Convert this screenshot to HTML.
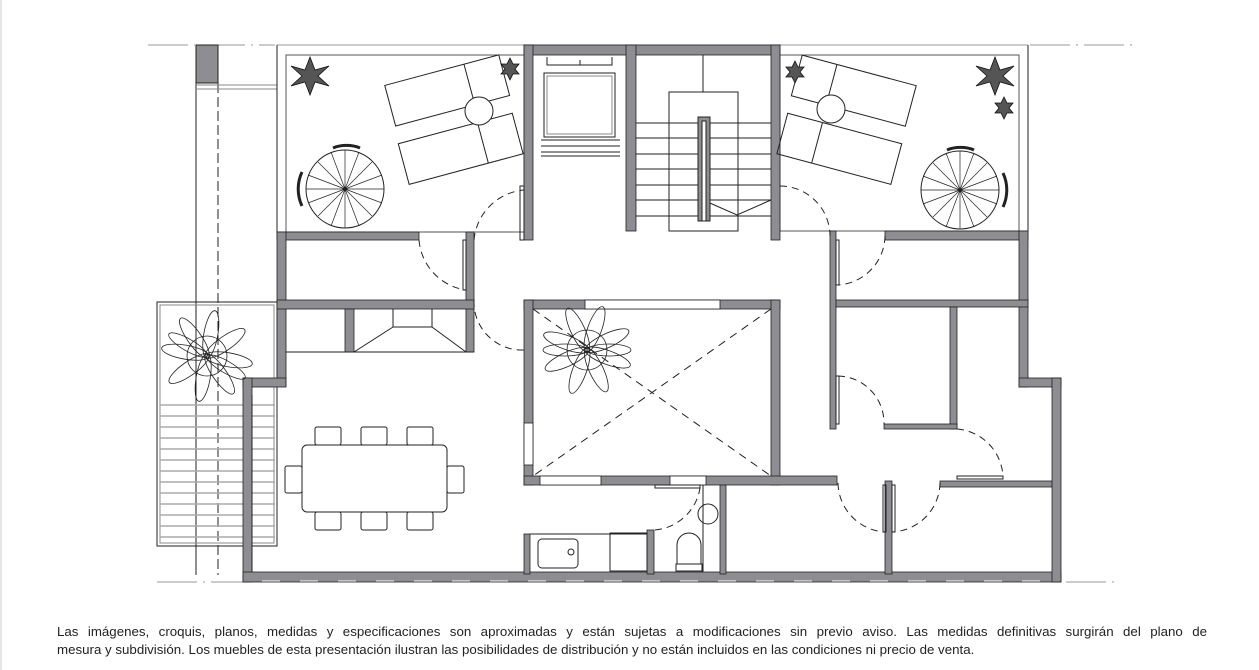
<!DOCTYPE html>
<html><head><meta charset="utf-8"><style>
body{margin:0;background:#fff;width:1259px;height:670px;overflow:hidden;position:relative}
svg{position:absolute;left:0;top:0}
.t{position:absolute;left:57px;top:623px;font-family:"Liberation Sans",sans-serif;font-size:13.3px;line-height:18px;color:#222;width:1150px}
.l1{text-align:justify;text-align-last:justify;white-space:nowrap}
</style></head><body>
<svg width="1259" height="670" viewBox="0 0 1259 670">
<line x1="1" y1="0" x2="1" y2="670" stroke="#ccc"/>
<g fill="none" stroke="#999" stroke-width="1">
<path d="M148 45H195M205 45H275" stroke-dasharray="40 6 2 6"/>
<path d="M1030 45H1138" stroke-dasharray="40 6 2 6"/>
<path d="M157 582H243M1066 582H1118" stroke-dasharray="40 6 2 6"/>
<line x1="277" y1="45" x2="1028" y2="45"/>
</g>
<g fill="none" stroke="#222" stroke-width="1">
<line x1="196" y1="83" x2="196" y2="575"/>
<line x1="218" y1="83" x2="218" y2="575" stroke-dasharray="10 4"/>
<line x1="196" y1="85" x2="277" y2="85" stroke="#888"/>
<line x1="196" y1="89" x2="277" y2="89" stroke="#888"/>
<line x1="277" y1="45" x2="277" y2="232"/>
<rect x="286" y="55" width="238" height="177" stroke="#555"/>
<rect x="780" y="55" width="239" height="176" stroke="#555"/>
<line x1="1028" y1="45" x2="1028" y2="231"/>
<rect x="157" y="302" width="120" height="244"/>
<rect x="160" y="305" width="114" height="238" stroke="#888"/>
</g>
<g stroke="#aaa" stroke-width="1.5">
<path d="M160 405H275M160 416H275M160 427H275M160 438H275M160 449H275M160 460H275M160 471H275M160 482H275M160 493H275M160 504H275M160 515H275M160 526H275M160 537H275"/>
</g>
<rect x="196" y="45" width="22" height="38" fill="#8e8e92" stroke="#222"/>
<g fill="#8e8e92" stroke="#222" stroke-width="0.8">
<rect x="524" y="45" width="256" height="10"/>
<rect x="524" y="45" width="9" height="195"/>
<rect x="626" y="45" width="10" height="186"/>
<rect x="771" y="45" width="9" height="195"/>
<rect x="277" y="232" width="142" height="8"/>
<rect x="277" y="232" width="9" height="154"/>
<rect x="466" y="232" width="8" height="120"/>
<rect x="277" y="300" width="197" height="9"/>
<rect x="345" y="309" width="9" height="43"/>
<rect x="243" y="378" width="43" height="9"/>
<rect x="243" y="378" width="9" height="204"/>
<rect x="243" y="572" width="818" height="10"/>
<rect x="524" y="300" width="256" height="9"/>
<rect x="524" y="300" width="9" height="185"/>
<rect x="771" y="300" width="9" height="185"/>
<rect x="524" y="476" width="313" height="9"/>
<rect x="524" y="534" width="6" height="40"/>
<rect x="647" y="530" width="7" height="44"/>
<rect x="720" y="485" width="6" height="89"/>
<rect x="885" y="481" width="7" height="93"/>
<rect x="940" y="481" width="112" height="6"/>
<rect x="885" y="231" width="143" height="9"/>
<rect x="1019" y="231" width="9" height="156"/>
<rect x="1019" y="378" width="42" height="9"/>
<rect x="1052" y="378" width="9" height="204"/>
<rect x="830" y="231" width="6" height="198"/>
<rect x="836" y="300" width="192" height="7"/>
<rect x="950" y="307" width="7" height="122"/>
<rect x="884" y="424" width="73" height="5"/>
</g>
<g fill="#fff" stroke="#222" stroke-width="0.8">
<rect x="585" y="300" width="135" height="9"/>
<rect x="524" y="423" width="9" height="42"/>
<rect x="540" y="476" width="61" height="9"/>
<rect x="670" y="476" width="36" height="9"/>
</g>
<g stroke="#fff" stroke-width="1" stroke-dasharray="18 20" fill="none">
<path d="M262 581H1050"/></g>
<g fill="none" stroke="#222" stroke-width="1">
<rect x="544" y="73" width="71" height="64"/>
<rect x="547" y="76" width="65" height="58" stroke="#888"/>
<path d="M547 57V65H612V57M580 60V65"/>
<path d="M541 140H620M541 146H620M541 152H620M541 156H620"/>
<path d="M636 123H771M636 138H771M636 154H771M636 169H771M636 185H771M636 200H771M636 216H771"/>
<rect x="669" y="92" width="69" height="139"/>
<line x1="703" y1="55" x2="703" y2="92"/>
<path d="M703 200L737 215L771 200"/>
<rect x="698" y="117" width="12" height="104" fill="#8e8e92"/>
<rect x="702" y="121" width="4" height="100" fill="#fff"/>
<path d="M533 309L771 476M771 309L533 476" stroke-dasharray="8 6"/>
<path d="M286 352H474M393 309V327H432V309M393 327L354 352M432 327L466 352"/>
<path d="M419 240A55 55 0 0 0 466 290" stroke-dasharray="7 5"/>
<path d="M474 240A55 55 0 0 1 524 190" stroke-dasharray="7 5"/>
<path d="M474 300A48 48 0 0 0 524 350" stroke-dasharray="7 5"/>
<path d="M780 186A50 50 0 0 1 830 236" stroke-dasharray="7 5"/>
<path d="M885 236A50 50 0 0 1 838 285" stroke-dasharray="7 5"/>
<path d="M838 376A47 47 0 0 1 884 424" stroke-dasharray="7 5"/>
<path d="M957 429A50 50 0 0 1 1003 477" stroke-dasharray="7 5"/>
<path d="M838 483A50 50 0 0 0 885 532" stroke-dasharray="7 5"/>
<path d="M940 483A50 50 0 0 1 892 532" stroke-dasharray="7 5"/>
<path d="M655 530A50 50 0 0 0 700 488" stroke-dasharray="7 5"/>
<rect x="520" y="186" width="4" height="54"/>
<rect x="463" y="240" width="3" height="50"/>
<rect x="836" y="240" width="3" height="45"/>
<rect x="836" y="376" width="3" height="48"/>
<rect x="883" y="485" width="3" height="47"/>
<rect x="892" y="485" width="3" height="47"/>
<rect x="957" y="476" width="46" height="3"/>
<rect x="655" y="485" width="45" height="3"/>
<path d="M530 534H647"/>
<rect x="538" y="539" width="40" height="29" rx="4"/>
<circle cx="571" cy="552" r="3"/>
<rect x="610" y="533" width="37" height="38"/>
<path d="M703 485V572"/>
<circle cx="708" cy="514" r="10"/>
<path d="M677 564V545A12 12 0 0 1 701 545V564Z"/>
<rect x="676" y="564" width="26" height="7"/>
<rect x="302" y="445" width="145" height="67" rx="5"/>
<rect x="315" y="427" width="26" height="18" rx="2"/><rect x="361" y="427" width="26" height="18" rx="2"/><rect x="407" y="427" width="26" height="18" rx="2"/>
<rect x="315" y="512" width="26" height="18" rx="2"/><rect x="361" y="512" width="26" height="18" rx="2"/><rect x="407" y="512" width="26" height="18" rx="2"/>
<rect x="285" y="466" width="17" height="27" rx="2"/><rect x="447" y="466" width="17" height="27" rx="2"/>
<line x1="252" y1="395" x2="252" y2="572"/>
<g transform="rotate(-15 445 90)"><rect x="388" y="70" width="118" height="42"/><line x1="470" y1="70" x2="470" y2="112"/></g>
<g transform="rotate(-15 460 150)"><rect x="402" y="128" width="118" height="42"/><line x1="484" y1="128" x2="484" y2="170"/></g>
<circle cx="479" cy="111" r="14" fill="#fff"/>
<g transform="rotate(15 855 90)"><rect x="795" y="70" width="118" height="42"/><line x1="831" y1="70" x2="831" y2="112"/></g>
<g transform="rotate(15 840 150)"><rect x="780" y="128" width="118" height="42"/><line x1="816" y1="128" x2="816" y2="170"/></g>
<circle cx="831" cy="109" r="14" fill="#fff"/>
<circle cx="345" cy="189" r="39"/><path d="M302 172A40 40 0 0 0 302 206" stroke-width="3"/>
<path d="M333 148A20 10 0 0 1 360 148" stroke-width="3"/>
<circle cx="960" cy="190" r="39"/><path d="M1003 173A40 40 0 0 1 1003 207" stroke-width="3"/>
<path d="M947 150A20 10 0 0 1 974 150" stroke-width="3"/>
<g stroke-width="0.7">
<path d="M345 150V228M306 189H384M318 162L372 216M372 162L318 216M331 152L359 226M359 152L331 226M308 175L382 203M382 175L308 203"/>
<path d="M960 151V229M921 190H999M933 163L987 217M987 163L933 217M946 153L974 227M974 153L946 227M923 176L997 204M997 176L923 204"/>
</g>
<g stroke-width="0.8">
<g transform="translate(207,356)">
<ellipse rx="24" ry="7" transform="rotate(10) translate(22,0)"/><ellipse rx="24" ry="7" transform="rotate(55) translate(22,0)"/><ellipse rx="24" ry="7" transform="rotate(100) translate(22,0)"/><ellipse rx="24" ry="7" transform="rotate(145) translate(22,0)"/><ellipse rx="24" ry="7" transform="rotate(190) translate(22,0)"/><ellipse rx="24" ry="7" transform="rotate(235) translate(22,0)"/><ellipse rx="24" ry="7" transform="rotate(280) translate(22,0)"/><ellipse rx="24" ry="7" transform="rotate(325) translate(22,0)"/><ellipse rx="22" ry="6" transform="rotate(30) translate(22,0)"/><ellipse rx="22" ry="6" transform="rotate(210) translate(22,0)"/><circle r="20"/>
</g>
<g transform="translate(587,350)">
<ellipse rx="24" ry="7" transform="rotate(20) translate(22,0)"/><ellipse rx="24" ry="7" transform="rotate(65) translate(22,0)"/><ellipse rx="24" ry="7" transform="rotate(110) translate(22,0)"/><ellipse rx="24" ry="7" transform="rotate(155) translate(22,0)"/><ellipse rx="24" ry="7" transform="rotate(200) translate(22,0)"/><ellipse rx="24" ry="7" transform="rotate(245) translate(22,0)"/><ellipse rx="24" ry="7" transform="rotate(290) translate(22,0)"/><ellipse rx="24" ry="7" transform="rotate(335) translate(22,0)"/><ellipse rx="22" ry="6" transform="rotate(0) translate(22,0)"/><ellipse rx="22" ry="6" transform="rotate(180) translate(22,0)"/><circle r="20"/>
</g>
</g>
</g>
<g fill="#555" stroke="#111" stroke-width="0.8">
<polygon points="310,57 315,70 329,66 318,76 329,86 315,82 310,95 305,82 291,86 302,76 291,66 305,70"/>
<polygon points="510,58 513,64 519,64 515,69 519,74 513,74 510,80 507,74 501,74 505,69 501,64 507,64"/>
<polygon points="795,61 798,67 804,67 800,72 804,77 798,77 795,83 792,77 786,77 790,72 786,67 792,67"/>
<polygon points="995,57 1000,70 1014,66 1003,76 1014,86 1000,82 995,95 990,82 976,86 987,76 976,66 990,70"/>
<polygon points="1004,97 1007,103 1013,103 1009,108 1013,113 1007,113 1004,119 1001,113 995,113 999,108 995,103 1001,103"/>
</g>
</svg>
<div class="t"><div class="l1">Las imágenes, croquis, planos, medidas y especificaciones son aproximadas y están sujetas a modificaciones sin previo aviso. Las medidas definitivas surgirán del plano de</div><div>mesura y subdivisión. Los muebles de esta presentación ilustran las posibilidades de distribución y no están incluidos en las condiciones ni precio de venta.</div></div>
</body></html>
